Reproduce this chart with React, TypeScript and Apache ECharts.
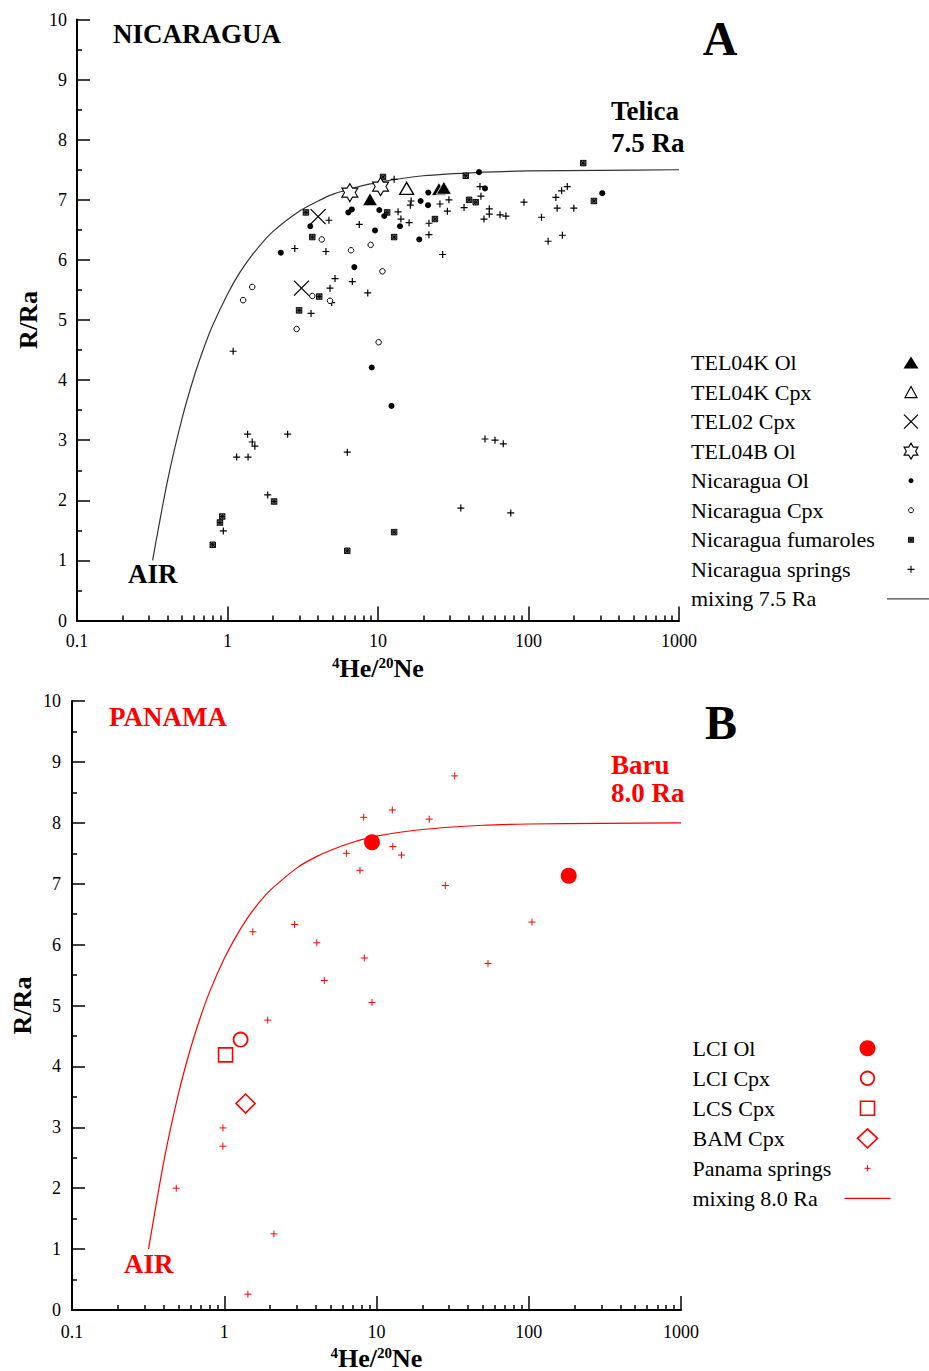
import React, { useEffect, useRef } from 'react';
import * as echarts from 'echarts';

const FONT = '"Liberation Serif", "Times New Roman", Times, serif';

// ---------- axis ticks ----------
const xMinorTicks = [
  0.2, 0.3, 0.4, 0.5, 0.6, 0.7, 0.8, 0.9,
  2, 3, 4, 5, 6, 7, 8, 9,
  20, 30, 40, 50, 60, 70, 80, 90,
  200, 300, 400, 500, 600, 700, 800, 900,
];

// ---------- mixing curves (air -> mantle end-member) ----------
const mixX = [0.318, 0.4, 0.5, 0.6, 0.7, 0.8, 1, 1.2, 1.5, 2, 3, 4, 5, 7, 10, 20, 50, 100, 300, 1000];
const mixNicaragua = [1.0, 2.33, 3.37, 4.06, 4.55, 4.92, 5.43, 5.78, 6.12, 6.47, 6.81, 6.98, 7.09, 7.2, 7.29, 7.4, 7.46, 7.48, 7.49, 7.5];
const mixPanama = [1.0, 2.43, 3.55, 4.29, 4.82, 5.22, 5.77, 6.14, 6.52, 6.89, 7.26, 7.44, 7.55, 7.68, 7.78, 7.89, 7.96, 7.98, 7.99, 8.0];

// ---------- Panel A : Nicaragua ----------
const tel04kOl = [[8.85, 7.01], [25.4, 7.18], [27.4, 7.2]];
const tel04kCpx = [[15.5, 7.19]];
const tel02Cpx = [[4.0, 6.72], [3.1, 5.53]];
const tel04bOl = [[6.5, 7.12], [10.4, 7.22]];
const nicOl = [
  [21.6, 7.12], [19.2, 6.98], [21.5, 6.91], [10.2, 6.83], [6.35, 6.79], [6.7, 6.84],
  [11.0, 6.73], [14.0, 6.56], [9.55, 6.49], [18.8, 6.34], [3.55, 6.56], [2.26, 6.12],
  [6.96, 5.88], [46.9, 7.46], [51.4, 7.19], [309, 7.11], [9.08, 4.21], [12.3, 3.57],
];
const nicCpx = [
  [4.23, 6.34], [6.62, 6.16], [8.94, 6.25], [10.7, 5.81], [1.46, 5.55], [1.27, 5.33],
  [3.66, 5.4], [4.8, 5.32], [2.88, 4.85], [10.1, 4.63],
];
const nicFumaroles = [
  [10.8, 7.38], [3.32, 6.79], [3.66, 6.38], [4.07, 5.39], [2.99, 5.16], [12.8, 6.38],
  [11.5, 6.79], [23.9, 6.68], [38.3, 7.4], [40.3, 7.0], [44.6, 6.96], [231, 7.61],
  [272, 6.98], [0.922, 1.73], [0.891, 1.63], [2.04, 1.98], [0.798, 1.26], [6.25, 1.16],
  [12.8, 1.47],
];
const nicSprings = [
  [12.8, 7.34], [16.6, 6.98], [16.4, 6.91], [25.8, 6.93], [29.6, 7.0], [28.9, 6.81],
  [13.6, 6.8], [14.2, 6.68], [16.1, 6.62], [21.8, 6.61], [21.8, 6.42], [7.51, 6.59],
  [4.72, 6.66], [2.8, 6.19], [4.51, 6.14], [26.9, 6.09], [5.18, 5.69], [6.75, 5.64],
  [4.8, 5.53], [8.55, 5.45], [4.92, 5.29], [3.59, 5.11], [47.6, 7.22], [48.3, 7.06],
  [37.3, 6.87], [54.9, 6.85], [54.9, 6.76], [50.6, 6.68], [64.7, 6.75], [70.8, 6.73],
  [93.3, 6.96], [122, 6.71], [152, 7.04], [166, 7.15], [181, 7.22], [155, 6.86],
  [200, 6.86], [135, 6.31], [168, 6.41], [1.09, 4.48], [1.36, 3.1], [1.46, 2.97],
  [1.52, 2.9], [2.51, 3.1], [1.15, 2.72], [1.37, 2.72], [6.25, 2.8], [1.85, 2.09],
  [0.938, 1.49], [51.4, 3.02], [59.9, 3.0], [68.0, 2.94], [35.5, 1.87], [76.2, 1.79],
];

// ---------- Panel B : Panama ----------
const lciOl = [[9.34, 7.68], [183, 7.13]];
const lciCpx = [[1.28, 4.44]];
const lcsCpx = [[1.02, 4.19]];
const bamCpx = [[1.38, 3.39]];
const panamaSprings = [
  [32.6, 8.77], [12.7, 8.21], [8.24, 8.09], [22.2, 8.06], [12.8, 7.61], [14.6, 7.47],
  [6.34, 7.5], [7.79, 7.22], [28.3, 6.97], [1.54, 6.21], [2.9, 6.33], [4.05, 6.03],
  [8.32, 5.78], [54.0, 5.69], [4.54, 5.41], [9.34, 5.05], [1.93, 4.76], [105, 6.37],
  [0.98, 2.99], [0.98, 2.69], [0.484, 2.0], [2.12, 1.25], [1.43, 0.26],
];

// ---------- symbols ----------
const PLUS = 'path://M5,0L5,10M0,5L10,5';
const CROSS = 'path://M0,0L10,10M10,0L0,10';
const STAR6 = 'path://M10,0L12.89,5L18.66,5L15.77,10L18.66,15L12.89,15L10,20L7.11,15L1.34,15L4.23,10L1.34,5L7.11,5Z';
const FUM = 'path://M0,0L8,0L8,8L0,8ZM0,0L8,8M8,0L0,8M4,0L4,8M0,4L8,4';

const RED = '#ff0000';

function zip(xs: number[], ys: number[]) {
  return xs.map((x, i) => [x, ys[i]]);
}

function mainX(gridIndex: number, margin: number) {
  return {
    type: 'log', logBase: 10, gridIndex, min: 0.1, max: 1000, position: 'bottom',
    axisLine: { show: true, onZero: false, lineStyle: { color: '#000', width: 2 } },
    axisTick: { show: true, inside: true, length: 14, lineStyle: { color: '#000', width: 1.5 } },
    minorTick: { show: false },
    axisLabel: { show: true, margin, color: '#000', fontSize: 18, fontFamily: FONT, formatter: (v: number) => String(v) },
    splitLine: { show: false },
    minorSplitLine: { show: false },
    name: '{s|4}He/{s|20}Ne',
    nameLocation: 'middle',
    nameGap: 35,
    nameMoveOverlap: false,
    nameTextStyle: {
      color: '#000', fontFamily: FONT, fontSize: 26, fontWeight: 'bold',
      rich: { s: { color: '#000', fontFamily: FONT, fontSize: 15, fontWeight: 'bold', verticalAlign: 'top' } },
    },
  };
}

function minorX(gridIndex: number) {
  return {
    type: 'log', logBase: 10, gridIndex, min: 0.1, max: 1000, position: 'bottom',
    axisLine: { show: false },
    axisTick: { show: true, inside: true, length: 5, customValues: xMinorTicks, lineStyle: { color: '#000', width: 1.5 } },
    axisLabel: { show: false },
    splitLine: { show: false },
  };
}

function yAx(gridIndex: number, margin: number, nameGap: number) {
  return {
    type: 'value', gridIndex, min: 0, max: 10, interval: 1,
    axisLine: { show: true, onZero: false, lineStyle: { color: '#000', width: 2 } },
    axisTick: { show: true, inside: true, length: 13, lineStyle: { color: '#000', width: 1.5 } },
    minorTick: { show: true, splitNumber: 2, length: 5, lineStyle: { color: '#000', width: 1.5 } },
    axisLabel: { show: true, margin, color: '#000', fontSize: 18, fontFamily: FONT },
    splitLine: { show: false },
    minorSplitLine: { show: false },
    name: 'R/Ra',
    nameLocation: 'middle',
    nameGap,
    nameMoveOverlap: false,
    nameTextStyle: { color: '#000', fontFamily: FONT, fontSize: 26, fontWeight: 'bold' },
  };
}

function legendsFor(items: any[], textLeft: number, firstRow: number, step: number) {
  return items.map((it, i) => {
    const iconLeft = it.cx - it.w / 2;
    const W = iconLeft - 5 - textLeft;
    return {
      data: [{ name: it.name, icon: it.icon }],
      left: textLeft,
      top: firstRow + i * step - 11,
      orient: 'vertical',
      align: 'right',
      padding: 0,
      selectedMode: false,
      itemWidth: it.w,
      itemHeight: it.h,
      itemStyle: { opacity: 1, ...it.style },
      formatter: '{t|{name}}',
      textStyle: {
        color: '#000', fontFamily: FONT, fontSize: 22,
        rich: { t: { width: W, align: 'left', color: '#000', fontFamily: FONT, fontSize: 22, lineHeight: 22 } },
      },
    };
  });
}

const legendA = [
  { name: 'TEL04K Ol', icon: 'triangle', cx: 911, w: 15, h: 12, style: { color: '#000', borderColor: '#000', borderWidth: 0 } },
  { name: 'TEL04K Cpx', icon: 'triangle', cx: 911, w: 12, h: 11, style: { color: '#fff', borderColor: '#000', borderWidth: 1.2 } },
  { name: 'TEL02 Cpx', icon: CROSS, cx: 911, w: 15, h: 14, style: { color: 'none', borderColor: '#000', borderWidth: 1.3 } },
  { name: 'TEL04B Ol', icon: STAR6, cx: 911, w: 14, h: 16, style: { color: '#fff', borderColor: '#000', borderWidth: 1.1 } },
  { name: 'Nicaragua Ol', icon: 'circle', cx: 911, w: 5, h: 5, style: { color: '#000', borderColor: '#000', borderWidth: 0 } },
  { name: 'Nicaragua Cpx', icon: 'circle', cx: 911, w: 5, h: 5, style: { color: '#fff', borderColor: '#000', borderWidth: 1 } },
  { name: 'Nicaragua fumaroles', icon: FUM, cx: 911, w: 5, h: 5, style: { color: '#888', borderColor: '#000', borderWidth: 0.9 } },
  { name: 'Nicaragua springs', icon: PLUS, cx: 911, w: 7, h: 7, style: { color: 'none', borderColor: '#000', borderWidth: 1.1 } },
  { name: 'mixing 7.5 Ra', icon: 'rect', cx: 908, w: 42, h: 1.3, style: { color: '#444', borderWidth: 0 } },
];

const legendB = [
  { name: 'LCI Ol', icon: 'circle', cx: 867.5, w: 16, h: 16, style: { color: RED, borderColor: RED, borderWidth: 0 } },
  { name: 'LCI Cpx', icon: 'circle', cx: 867.5, w: 13.5, h: 13.5, style: { color: '#fff', borderColor: RED, borderWidth: 1.8 } },
  { name: 'LCS Cpx', icon: 'rect', cx: 867.5, w: 14, h: 14, style: { color: '#fff', borderColor: RED, borderWidth: 1.6 } },
  { name: 'BAM Cpx', icon: 'diamond', cx: 867.5, w: 20, h: 19, style: { color: '#fff', borderColor: RED, borderWidth: 1.6 } },
  { name: 'Panama springs', icon: PLUS, cx: 867.5, w: 6, h: 6, style: { color: 'none', borderColor: RED, borderWidth: 1 } },
  { name: 'mixing 8.0 Ra', icon: 'rect', cx: 867.5, w: 46, h: 1.3, style: { color: RED, borderWidth: 0 } },
];

function txt(x: number, y: number, text: string, size: number, color: string, align = 'left') {
  return {
    type: 'text', x, y, z: 10,
    style: { text, fontFamily: FONT, fontSize: size, fontWeight: 'bold', fill: color, align, verticalAlign: 'middle' },
  };
}

function scatter(name: string, data: number[][], xi: number, yi: number, symbol: string, size: any, itemStyle: any) {
  return {
    type: 'scatter', name, data, xAxisIndex: xi, yAxisIndex: yi, symbol, symbolSize: size,
    itemStyle: { opacity: 1, ...itemStyle }, z: 3, emphasis: { disabled: true },
  };
}

function buildOption() {
  return {
    animation: false,
    backgroundColor: '#fff',
    grid: [
      { left: 77, top: 19.5, width: 602, height: 601, outerBoundsMode: 'none', containLabel: false },
      { left: 72, top: 701, width: 609, height: 609, outerBoundsMode: 'none', containLabel: false },
    ],
    xAxis: [mainX(0, 11), minorX(0), mainX(1, 13), minorX(1)],
    yAxis: [yAx(0, 10, 36), yAx(1, 11, 37)],
    legend: [...legendsFor(legendA, 691, 362.5, 29.55), ...legendsFor(legendB, 692.5, 1048.3, 30.0)],
    graphic: [
      txt(113, 34, 'NICARAGUA', 27, '#000'),
      txt(720, 38, 'A', 48, '#000', 'center'),
      txt(611, 111, 'Telica', 27, '#000'),
      txt(611, 143, '7.5 Ra', 27, '#000'),
      txt(128, 574, 'AIR', 27, '#000'),
      txt(109, 717, 'PANAMA', 27, RED),
      txt(721, 722, 'B', 48, '#000', 'center'),
      txt(611, 765, 'Baru', 27, RED),
      txt(611, 793, '8.0 Ra', 27, RED),
      txt(124, 1264, 'AIR', 27, RED),
    ],
    series: [
      {
        type: 'line', name: 'mixing 7.5 Ra', data: zip(mixX, mixNicaragua), xAxisIndex: 0, yAxisIndex: 0,
        symbol: 'none', showSymbol: false, smooth: 0.3, lineStyle: { color: '#333', width: 1.2 }, itemStyle: { color: '#333' }, z: 1,
      },
      scatter('Nicaragua springs', nicSprings, 0, 0, PLUS, 7, { color: 'none', borderColor: '#000', borderWidth: 1.2 }),
      scatter('Nicaragua fumaroles', nicFumaroles, 0, 0, FUM, 5.5, { color: '#888', borderColor: '#000', borderWidth: 0.9 }),
      scatter('Nicaragua Cpx', nicCpx, 0, 0, 'circle', 5.5, { color: '#fff', borderColor: '#000', borderWidth: 1 }),
      scatter('Nicaragua Ol', nicOl, 0, 0, 'circle', 6, { color: '#000' }),
      scatter('TEL04B Ol', tel04bOl, 0, 0, STAR6, [16, 18], { color: '#fff', borderColor: '#000', borderWidth: 1.1 }),
      scatter('TEL02 Cpx', tel02Cpx, 0, 0, CROSS, 15, { color: 'none', borderColor: '#000', borderWidth: 1.3 }),
      scatter('TEL04K Cpx', tel04kCpx, 0, 0, 'triangle', [14, 12], { color: '#fff', borderColor: '#000', borderWidth: 1.3 }),
      scatter('TEL04K Ol', tel04kOl, 0, 0, 'triangle', [15, 13], { color: '#000', borderColor: '#fff', borderWidth: 0.8 }),
      {
        type: 'line', name: 'mixing 8.0 Ra', data: zip(mixX, mixPanama), xAxisIndex: 2, yAxisIndex: 1,
        symbol: 'none', showSymbol: false, smooth: 0.2, lineStyle: { color: RED, width: 1.2 }, itemStyle: { color: RED }, z: 1,
      },
      scatter('Panama springs', panamaSprings, 2, 1, PLUS, 7, { color: 'none', borderColor: RED, borderWidth: 1 }),
      scatter('BAM Cpx', bamCpx, 2, 1, 'diamond', [19, 19], { color: '#fff', borderColor: RED, borderWidth: 1.6 }),
      scatter('LCS Cpx', lcsCpx, 2, 1, 'rect', 14, { color: '#fff', borderColor: RED, borderWidth: 1.6 }),
      scatter('LCI Cpx', lciCpx, 2, 1, 'circle', 14, { color: '#fff', borderColor: RED, borderWidth: 1.8 }),
      scatter('LCI Ol', lciOl, 2, 1, 'circle', 16, { color: RED }),
    ],
  };
}

export default function App() {
  const ref = useRef<HTMLDivElement>(null);
  useEffect(() => {
    if (!ref.current) return;
    const chart = echarts.init(ref.current, null, { renderer: 'svg' });
    chart.setOption(buildOption() as any);
    return () => chart.dispose();
  }, []);
  return (
    <div
      ref={ref}
      style={{ position: 'absolute', left: 0, top: 0, width: 929, height: 1371, background: '#fff' }}
    />
  );
}
